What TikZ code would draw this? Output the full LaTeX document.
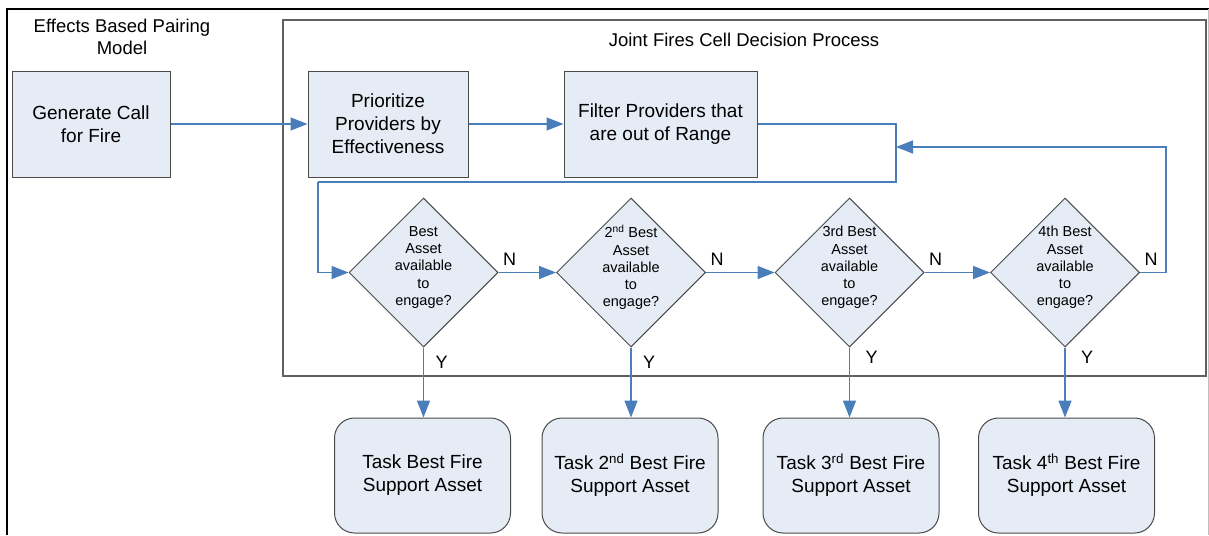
\documentclass[tikz,border=0pt]{standalone}
\usepackage{fontspec}
\setmainfont{Liberation Sans}
\usetikzlibrary{shapes.geometric,arrows.meta}
\definecolor{flow}{HTML}{4A7EBB}
\definecolor{boxfill}{HTML}{E6ECF6}
\definecolor{boxline}{HTML}{4A4A4A}
\definecolor{frameline}{HTML}{606060}
\tikzset{
  procbox/.style={draw=boxline, line width=1pt, fill=boxfill, rectangle,
    minimum height=106pt, align=center, inner sep=0pt,
    font=\fontsize{19}{23}\selectfont},
  taskbox/.style={draw=boxline, line width=1pt, fill=boxfill, rectangle,
    rounded corners=20pt, minimum width=176pt, minimum height=115pt,
    align=center, inner sep=0pt, font=\fontsize{19}{23}\selectfont},
  decision/.style={draw=boxline, line width=1pt, fill=boxfill, diamond,
    minimum width=149pt, minimum height=149pt, inner sep=0pt},
  decisiontext/.style={align=center, inner sep=0pt,
    font=\fontsize{14.5}{17.2}\selectfont},
  flowline/.style={draw=flow, line width=1.6pt},
  flowarrow/.style={flowline, -{Triangle[length=17pt, width=13pt]}},
  branch/.style={font=\fontsize{18}{20}\selectfont, inner sep=0pt},
  heading/.style={align=center, inner sep=0pt, font=\fontsize{18.5}{22}\selectfont}
}
\begin{document}
\begin{tikzpicture}[x=1pt, y=-1pt]
\useasboundingbox (0,0) rectangle (1209,535);

% outer frame (page edges) and the decision-process frame
\draw[black, line width=2.5pt] (7,535) -- (7,9) -- (1209,9);
\draw[black!25, line width=1pt] (1208,9) -- (1208,535);
\draw[frameline, line width=1.5pt] (283,20) rectangle (1206,376);

% headings
\node[heading] (hmodel) at (122,37) {Effects Based Pairing\\Model};
\node[heading] (hjfc) at (744,40) {Joint Fires Cell Decision Process};

% process boxes
\node[procbox, minimum width=158pt] (gen) at (91,124) {Generate Call\\for Fire};
\node[procbox, minimum width=160pt] (pri) at (388,124) {Prioritize\\Providers by\\Effectiveness};
\node[procbox, minimum width=193pt] (fil) at (660.5,124) {Filter Providers that\\are out of Range};

% decisions
\node[decision] (d1) at (423.5,272.5) {};
\node[decision] (d2) at (631,272.5) {};
\node[decision] (d3) at (849.5,272.5) {};
\node[decision] (d4) at (1065,272.5) {};
\node[decisiontext] (d1t) at (423.5,267.5) {Best\\Asset\\available\\to\\engage?};
\node[decisiontext] (d2t) at (631,267.5) {2\textsuperscript{nd} Best\\Asset\\available\\to\\engage?};
\node[decisiontext] (d3t) at (849.5,267.5) {3rd Best\\Asset\\available\\to\\engage?};
\node[decisiontext] (d4t) at (1065,267.5) {4th Best\\Asset\\available\\to\\engage?};

% tasking boxes
\node[taskbox] (t1) at (422.5,475.5) {Task Best Fire\\Support Asset};
\node[taskbox] (t2) at (630,475.5) {Task 2\textsuperscript{nd} Best Fire\\Support Asset};
\node[taskbox] (t3) at (851,475.5) {Task 3\textsuperscript{rd} Best Fire\\Support Asset};
\node[taskbox] (t4) at (1066.5,475.5) {Task 4\textsuperscript{th} Best Fire\\Support Asset};

% routing points
\coordinate (fr) at (896,124);
\coordinate (frb) at (896,182);
\coordinate (lb) at (318,182);
\coordinate (loopin) at (896,147);
\coordinate (loopr) at (1166,272.5);

% main flow
\draw[flowarrow] (gen) -- (pri);
\draw[flowarrow] (pri) -- (fil);
\draw[flowline] (fil.east) -- (fr) -- (frb) -- (lb);
\draw[flowarrow] (lb) |- (d1.west);
\draw[flowarrow] (d1.east) -- (d2.west);
\draw[flowarrow] (d2.east) -- (d3.west);
\draw[flowarrow] (d3.east) -- (d4.west);
\draw[flowarrow] (d4.east) -- (loopr) |- (loopin);

% yes branches
\draw[flowarrow] (d1.south) -- (d1.south |- t1.north);
\draw[flowarrow] (d2.south) -- (d2.south |- t2.north);
\draw[flowarrow] (d3.south) -- (d3.south |- t3.north);
\draw[flowarrow] (d4.south) -- (d4.south |- t4.north);

% branch labels
\foreach \d in {d1,d2,d3,d4}{
  \node[branch] (\d n) at ([shift={(11,-13)}]\d.east) {N};
}
\node[branch] (d1y) at ([shift={(18,15)}]d1.south) {Y};
\node[branch] (d2y) at ([shift={(18,15)}]d2.south) {Y};
\node[branch] (d3y) at ([shift={(22,10)}]d3.south) {Y};
\node[branch] (d4y) at ([shift={(22,10)}]d4.south) {Y};
\end{tikzpicture}
\end{document}
